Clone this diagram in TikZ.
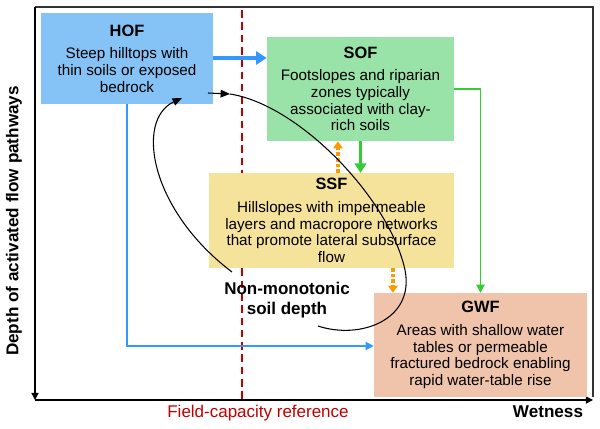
\documentclass[tikz,border=0pt]{standalone}
\usepackage{fontspec}
\setmainfont{Liberation Sans}
\usepackage{tikz}
\usetikzlibrary{arrows.meta}
\definecolor{hofblue}{RGB}{133,194,245}
\definecolor{sofgreen}{RGB}{153,226,168}
\definecolor{ssfyellow}{RGB}{245,226,155}
\definecolor{gwfsalmon}{RGB}{240,196,170}
\definecolor{lineblue}{RGB}{51,153,255}
\definecolor{linegreen}{RGB}{51,204,51}
\definecolor{lineorange}{RGB}{255,153,0}
\definecolor{fcred}{RGB}{192,0,0}
\tikzset{
  zone/.style={inner sep=0pt, align=center, font=\fontsize{13}{14.2}\selectfont},
  orangedot/.style={lineorange, line width=2.6pt, dash pattern=on 3pt off 1.8pt, -{Triangle[width=8pt,length=6pt]}},
  loopline/.style={line width=0.9pt},
}
\newcommand{\zonetitle}[1]{{\fontsize{14}{16}\selectfont\bfseries #1}\\[5pt]}

\begin{document}
\begin{tikzpicture}
        \useasboundingbox (-1.05cm,-0.87cm) rectangle (16.95cm,12cm);
        % frame and axes
        \draw[line width=1.2pt, black!80] (0cm,11.79cm) -- (16.74cm,11.79cm) -- (16.74cm,0.1cm);
        \draw[line width=1pt, -{Triangle[width=6pt,length=6pt]}] (0cm,11.79cm) -- (0cm,0cm);
        \draw[line width=1pt, -{Triangle[width=6pt,length=6pt]}] (0cm,0cm) -- (16.74cm,0cm);
        \node[rotate=90, font=\fontsize{14.6}{16}\selectfont\bfseries] (ylab) at (-0.63cm,5.37cm) {Depth of activated flow pathways};
        \node[fcred, font=\fontsize{14.5}{16}\selectfont] (fclab) at (6.69cm,-0.39cm) {Field-capacity reference};
        \node[font=\fontsize{14.6}{16}\selectfont\bfseries] (xlab) at (15.39cm,-0.36cm) {Wetness};
        \draw[fcred, line width=1.6pt, dash pattern=on 6.5pt off 4pt] (6.21cm,11.7cm) -- (6.21cm,0cm);

        % flow-path zones
        \node[zone, fill=hofblue, minimum width=5.16cm, minimum height=2.73cm] (hof) at (2.76cm,10.245cm)
          {\zonetitle{HOF}Steep hilltops with\\thin soils or exposed\\bedrock};
        \node[zone, fill=sofgreen, minimum width=5.61cm, minimum height=3.12cm] (sof) at (9.765cm,9.33cm)
          {\zonetitle{SOF}Footslopes and riparian\\zones typically\\associated with clay-\\rich soils};
        \node[zone, fill=ssfyellow, minimum width=7.35cm, minimum height=2.85cm] (ssf) at (8.895cm,5.385cm)
          {\zonetitle{SSF}Hillslopes with impermeable\\layers and macropore networks\\that promote lateral subsurface\\flow};
        \node[zone, fill=gwfsalmon, minimum width=6.39cm, minimum height=3.12cm] (gwf) at (13.365cm,1.65cm)
          {\zonetitle{GWF}Areas with shallow water\\tables or permeable\\fractured bedrock enabling\\rapid water-table rise};
        \node[align=center, font=\fontsize{14.5}{17.5}\selectfont\bfseries] (nonmono) at (7.56cm,3.0cm) {Non-monotonic\\soil depth};

        % connectors
        \coordinate (upx) at (9.09cm,0cm);
        \coordinate (downx) at (10.74cm,0cm);
        \draw[lineblue, line width=3.4pt, -{Triangle[width=11pt,length=9pt]}] (hof.east |- 0,10.26cm) -- (sof.west |- 0,10.26cm);
        \draw[lineblue, line width=1.6pt, -{Triangle[width=7pt,length=7pt]}] (hof.south) |- ([yshift=-0.03cm]gwf.west);
        \draw[linegreen, line width=1.7pt, -{Triangle[width=7pt,length=7pt]}] (sof.east) -| (gwf.north);
        \draw[linegreen, line width=2.8pt, -{Triangle[width=10pt,length=8pt]}] (sof.south) -- (sof.south |- ssf.north);
        \draw[orangedot] (ssf.north -| upx) -- (sof.south -| upx);
        \draw[orangedot] (ssf.south -| downx) -- (gwf.north -| downx);

        % soil-depth loop
        \draw[loopline, -{Triangle[width=6.5pt,length=8pt]}] (5.91cm,3.84cm) .. controls (3.45cm,5.7cm) and (3.0cm,8.4cm) .. (4.41cm,9.06cm);
        \draw[loopline, -{Triangle[width=6.5pt,length=8pt]}] (5.19cm,9.21cm) -- (5.85cm,9.18cm);
        \draw[loopline] (5.85cm,9.18cm) .. controls (7.95cm,8.85cm) and (10.65cm,6.0cm) .. (11.1cm,3.9cm)
          .. controls (11.4cm,2.4cm) and (9.75cm,1.8cm) .. (8.49cm,2.22cm);
      \end{tikzpicture}
\end{document}
